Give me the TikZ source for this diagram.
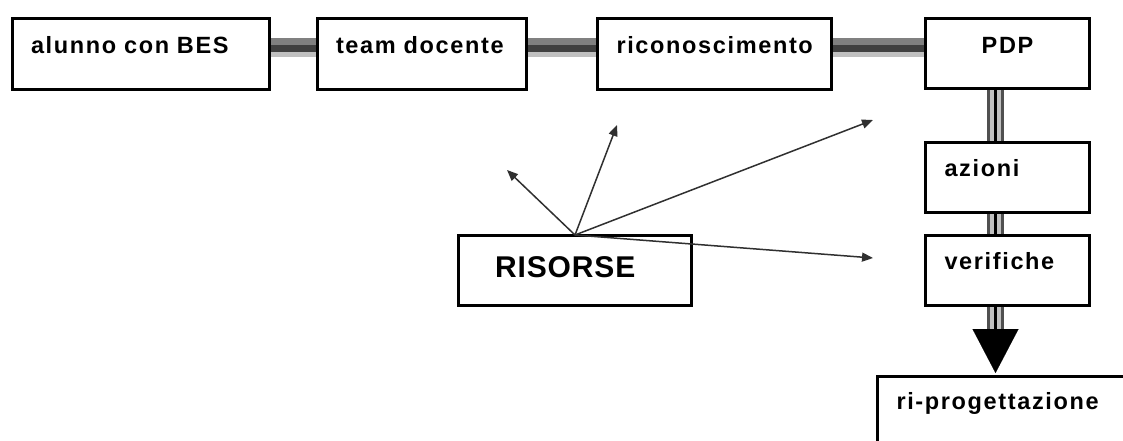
\documentclass[tikz,border=0pt]{standalone}
\usepackage{fontspec}
\setmainfont{Liberation Sans}
\newfontfamily\boxfont{Liberation Sans}[LetterSpace=7]
\newfontfamily\bigfont{Liberation Sans}[LetterSpace=3]
\usetikzlibrary{arrows.meta,backgrounds}
\definecolor{bandmid}{HTML}{808080}
\definecolor{banddark}{HTML}{404040}
\definecolor{bandlight}{HTML}{C0C0C0}
\definecolor{vdark}{HTML}{505050}
\definecolor{arrowgray}{HTML}{303030}
\begin{document}
\begin{tikzpicture}[x=1pt,y=-1pt,
  boxl/.style={draw=black, line width=3pt, fill=white, anchor=north west,
    outer sep=0pt, inner xsep=19pt, inner ysep=0pt, align=left,
    font=\boxfont\bfseries\fontsize{23.5}{28}\selectfont},
  boxc/.style={boxl, align=center},
  boxbig/.style={boxl, inner xsep=37pt, font=\bigfont\bfseries\fontsize{30}{34}\selectfont},
  hmid/.style={bandmid, line width=6.7pt},
  hdark/.style={banddark, line width=7.3pt},
  hlight/.style={bandlight, line width=5pt},
  vout/.style={vdark, line width=17pt},
  vin/.style={bandlight, line width=10.6pt},
  vcore/.style={black, line width=3.3pt},
  ray/.style={arrowgray, line width=1.5pt, -{Triangle[length=11pt,width=9pt]}},
  bigtip/.style={black, line width=0.1pt, -{Triangle[length=44pt,width=46pt]}}
]
\useasboundingbox (0,0) rectangle (1123,441);
\clip (0,0) rectangle (1123,441);

\node[boxl, text width=219.5pt, text height=35.5pt, text depth=35.5pt] (alunno) at (12,18.5) {alunno con BES};
\node[boxl, text width=171pt, text height=35.5pt, text depth=35.5pt] (team) at (317,18.5) {team docente};
\node[boxl, text width=195.5pt, text height=35.5pt, text depth=35.5pt] (ricon) at (597.5,18.5) {riconoscimento};
\node[boxc, text width=126pt, text height=35.5pt, text depth=35pt] (pdp) at (925.5,18.5) {PDP};
\node[boxl, text width=126pt, text height=34.5pt, text depth=35.5pt] (azioni) at (925.5,142) {azioni};
\node[boxl, text width=126pt, text height=34pt, text depth=36pt] (verifiche) at (925.5,235) {verifiche};
\node[boxbig, text width=159pt, text height=42pt, text depth=28pt] (risorse) at (458,235) {RISORSE};
\node[boxl, text width=242pt, text height=33pt, text depth=67pt] (ripro) at (877.5,376) {ri-progettazione};

\begin{pgfonlayer}{background}
\fill[white] (0,0) rectangle (1123,441);
\foreach \a/\b in {alunno/team,team/ricon,ricon/pdp}{
  \draw[hmid] ([yshift=-23.15pt]\a.north east) -- ([yshift=-23.15pt]\b.north west);
  \draw[hdark] ([yshift=-30.15pt]\a.north east) -- ([yshift=-30.15pt]\b.north west);
  \draw[hlight] ([yshift=-36.3pt]\a.north east) -- ([yshift=-36.3pt]\b.north west);
}
\foreach \a/\b in {pdp/azioni,azioni/verifiche}{
  \draw[vout] ([xshift=70pt]\a.south west) -- ([xshift=70pt]\b.north west);
  \draw[vin] ([xshift=70pt]\a.south west) -- ([xshift=70pt]\b.north west);
  \draw[vcore] ([xshift=70pt]\a.south west) -- ([xshift=70pt]\b.north west);
}
\coordinate (tipbase) at ([xshift=118pt,yshift=47pt]ripro.north west);
\draw[vout] ([xshift=70pt]verifiche.south west) -- (tipbase);
\draw[vin] ([xshift=70pt]verifiche.south west) -- (tipbase);
\draw[vcore] ([xshift=70pt]verifiche.south west) -- (tipbase);
\end{pgfonlayer}

\draw[bigtip] (tipbase) -- ([xshift=118pt,yshift=3pt]ripro.north west);

\coordinate (e1) at (507,170);
\coordinate (e2) at (617,125);
\coordinate (e3) at (873,120);
\coordinate (e4) at (873,258);
\foreach \e in {e1,e2,e3,e4}{
  \draw[ray] ([xshift=117pt]risorse.north west) -- (\e);
}
\end{tikzpicture}
\end{document}
